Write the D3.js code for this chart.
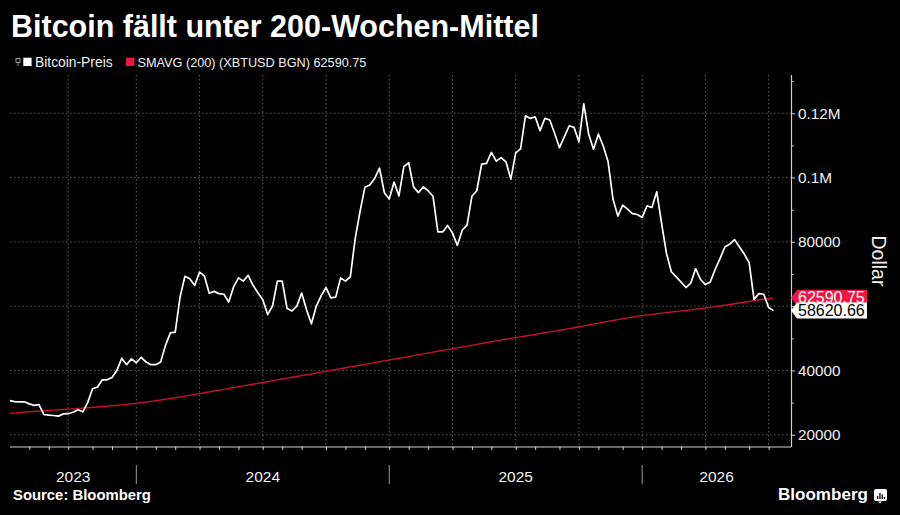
<!DOCTYPE html>
<html><head><meta charset="utf-8">
<script src="https://cdn.jsdelivr.net/npm/d3@7"></script>
<style>body{margin:0;background:#000}svg{display:block}</style>
</head><body>
<svg id="c" width="900" height="515"></svg>
<script>
// ---------------- data ----------------
const title = "Bitcoin fällt unter 200-Wochen-Mittel";
const source = "Source: Bloomberg";
const seriesNames = ["Bitcoin-Preis", "SMAVG (200) (XBTUSD BGN) 62590.75"];
const firstWeek = "2023-07-09";   // weekly observations
const price = [
  30600,30300,30200,30250,29600,29150,29350,26300,26100,26000,
  25800,26500,26550,27000,27800,27150,30000,34300,34800,37100,
  37100,37800,40000,43800,41800,43600,42400,44100,42600,41800,
  41800,42600,47800,51700,51900,62900,69300,68500,66400,70600,
  69400,64000,64600,63900,63700,61300,66000,68800,67800,69600,
  66500,64200,62000,57400,60000,67800,67800,59250,58500,60000,
  64100,58900,54500,60000,63200,65800,62600,62800,68800,67800,
  69100,81000,89500,97000,97700,99700,102900,95300,93300,98600,
  94300,103400,104600,97100,95300,97100,95900,94200,83100,83100,
  85100,82800,78900,83600,85200,94200,95900,104200,104400,107800,
  105100,106200,104900,99500,107700,108900,119200,118400,118900,114600,
  118400,117900,113800,109300,112700,116100,115600,111100,122900,113500,
  108800,113500,109800,104900,93300,88000,91400,90200,88800,88500,
  87600,91200,90700,95600,85700,76400,70700,69100,67500,65800,
  67200,71700,68300,66700,67500,71400,74800,78400,79300,80700,
  78400,76200,73500,62100,63900,63700,59600,58620.66
];
const sma = [
  26700,26810,26920,27030,27140,27250,27360,27460,27560,27660,
  27760,27860,27960,28060,28170,28280,28390,28510,28640,28770,
  28900,29030,29170,29310,29460,29620,29790,29980,30180,30390,
  30600,30810,31030,31260,31500,31750,32010,32270,32530,32800,
  33070,33330,33600,33870,34130,34400,34670,34930,35200,35470,
  35730,36000,36270,36530,36800,37070,37330,37600,37870,38130,
  38400,38670,38940,39210,39480,39750,40020,40290,40560,40830,
  41100,41370,41640,41910,42180,42450,42720,42990,43260,43530,
  43800,44070,44340,44610,44880,45150,45420,45690,45960,46230,
  46500,46770,47040,47310,47580,47850,48120,48390,48660,48930,
  49200,49450,49700,49950,50200,50450,50710,50970,51230,51490,
  51750,52000,52250,52500,52750,53000,53290,53580,53860,54140,
  54420,54710,55000,55270,55540,55810,56080,56350,56620,56900,
  57090,57280,57460,57640,57820,58000,58180,58350,58520,58690,
  58860,59030,59200,59380,59610,59840,60070,60300,60530,60760,
  61000,61230,61460,61690,61920,62140,62370,62590.75
];
const yTickValues = [20000,40000,60000,80000,100000,120000];
// the 60000 label sits behind the value tags in the reference, so it is left blank
const yTickLabels = ["20000","40000","","80000","0.1M","0.12M"];
const yMinorValues = [30000,50000,70000,90000,110000,130000];
const yearLabels = ["2023","2024","2025","2026"];

// ---------------- chart ----------------
const svg = d3.select("#c");
const W = 900, H = 515;
svg.append("rect").attr("width", W).attr("height", H).attr("fill", "#000");
const FONT = "'Liberation Sans', Arial, sans-serif";

function fit(sel, w) {
  const l = sel.node().getComputedTextLength();
  const fs = parseFloat(sel.attr("font-size"));
  sel.attr("font-size", fs * w / l);
  return sel;
}

const start = d3.timeParse("%Y-%m-%d")(firstWeek);
const dates = price.map((_, i) => d3.timeWeek.offset(start, i));
const L = 10, R = 791, T = 75, B = 446.5;
const xEnd = new Date(+start + 160.6 * 7 * 864e5);
const x = d3.scaleTime().domain([start, xEnd]).range([L - 0.15, R]);
const y = d3.scaleLinear().domain([16350, 131900]).range([B, T]);

// month / quarter / year positions (first weekly observation of each period)
const monthStarts = dates.filter((d, i) => i > 0 && d.getMonth() !== dates[i - 1].getMonth());
const quarterStarts = monthStarts.filter(d => d.getMonth() % 3 === 0);
const yearStarts = monthStarts.filter(d => d.getMonth() === 0);

const gridColor = "#5e5e5e";
// horizontal grid
svg.append("g").selectAll("line").data(yTickValues).join("line")
  .attr("x1", L).attr("x2", R).attr("y1", d => y(d)).attr("y2", d => y(d))
  .attr("stroke", gridColor).attr("stroke-width", 1).attr("stroke-dasharray", "1.5,2.5");
// vertical grid
svg.append("g").selectAll("line").data(quarterStarts).join("line")
  .attr("x1", d => x(d)).attr("x2", d => x(d)).attr("y1", T).attr("y2", B)
  .attr("stroke", gridColor).attr("stroke-width", 1).attr("stroke-dasharray", "1.5,2.5");

// x axis
const xAxis = svg.append("g").attr("transform", `translate(0,${B})`)
  .call(d3.axisBottom(x).tickValues(monthStarts).tickFormat("").tickSize(3.5).tickSizeOuter(0));
xAxis.select(".domain").attr("stroke", "#cfcfcf").attr("stroke-width", 1.2)
  .attr("d", `M${L},0.5H${R}`);
xAxis.selectAll(".tick line").attr("stroke", "#cfcfcf");

// year separators and labels
const bounds = [L, ...yearStarts.map(d => x(d)), R];
svg.append("g").selectAll("line").data(yearStarts).join("line")
  .attr("x1", d => x(d)).attr("x2", d => x(d)).attr("y1", 465).attr("y2", 484)
  .attr("stroke", "#9a9a9a").attr("stroke-width", 1);
svg.append("g").selectAll("text").data(yearLabels).join("text")
  .attr("x", (d, i) => (bounds[i] + bounds[i + 1]) / 2).attr("y", 482)
  .attr("text-anchor", "middle").attr("fill", "#f0f0f0")
  .attr("font-family", FONT).attr("font-size", 15.5).text(d => d);

// y axis
const yAxis = svg.append("g").attr("transform", `translate(${R},0)`)
  .call(d3.axisRight(y).tickValues(yTickValues).tickFormat((d, i) => yTickLabels[i]).tickSize(4).tickPadding(3).tickSizeOuter(0));
yAxis.select(".domain").attr("stroke", "#cfcfcf").attr("stroke-width", 1.2)
  .attr("d", `M0.5,${T}V${B + 0.5}`);
yAxis.selectAll(".tick line").attr("stroke", "#cfcfcf");
yAxis.selectAll(".tick text").attr("fill", "#f0f0f0").attr("font-family", FONT).attr("font-size", 15.3);
yAxis.selectAll(".tick text").filter(function () { return this.textContent === ""; }).remove();
const yMinor = svg.append("g").attr("transform", `translate(${R},0)`)
  .call(d3.axisRight(y).tickValues(yMinorValues).tickFormat("").tickSize(3).tickSizeOuter(0));
yMinor.select(".domain").remove();
yMinor.selectAll(".tick line").attr("stroke", "#bdbdbd");

svg.append("text").attr("transform", "translate(872,261) rotate(90)")
  .attr("text-anchor", "middle").attr("fill", "#f0f0f0")
  .attr("font-family", FONT).attr("font-size", 19.5).text("Dollar");

// lines
const line = d3.line().x((d, i) => x(dates[i])).y(d => y(d));
svg.append("path").datum(sma).attr("d", line).attr("fill", "none")
  .attr("stroke", "#c8102e").attr("stroke-width", 1.4);
svg.append("path").datum(price).attr("d", line).attr("fill", "none")
  .attr("stroke", "#ffffff").attr("stroke-width", 1.7).attr("stroke-linejoin", "round");

// value tags
function tag(v, fill, textFill, label, dy) {
  const cy = y(v), h = 16;
  const g = svg.append("g");
  g.append("path").attr("d", `M${R},${cy}L${R + 6},${cy - h / 2}H867V${cy + h / 2}H${R + 6}Z`)
    .attr("fill", fill);
  g.append("text").attr("x", 798).attr("y", cy + dy).attr("fill", textFill)
    .attr("font-family", FONT).attr("font-size", 16).text(label);
}
tag(sma[sma.length - 1], "#f0163f", "#ffffff", "62590.75", 5.0);
tag(price[price.length - 1], "#ffffff", "#000000", "58620.66", 5.6);

// title
fit(svg.append("text").attr("x", 11).attr("y", 37).attr("fill", "#ffffff")
  .attr("font-family", FONT).attr("font-weight", "bold").attr("font-size", 28).text(title), 528);

// legend
const lg = svg.append("g");
lg.append("rect").attr("x", 16).attr("y", 58.5).attr("width", 4).attr("height", 4)
  .attr("fill", "none").attr("stroke", "#bbb").attr("stroke-width", 0.8);
lg.append("line").attr("x1", 18).attr("x2", 18).attr("y1", 62.5).attr("y2", 66).attr("stroke", "#bbb").attr("stroke-width", 0.8);
lg.append("rect").attr("x", 23.3).attr("y", 57.7).attr("width", 8.3).attr("height", 8.3).attr("fill", "#ffffff");
fit(lg.append("text").attr("x", 35).attr("y", 66.5).attr("fill", "#f0f0f0")
  .attr("font-family", FONT).attr("font-size", 13.5).text(seriesNames[0]), 77.7);
lg.append("rect").attr("x", 126).attr("y", 57.7).attr("width", 8.3).attr("height", 8.3).attr("fill", "#f0163f");
fit(lg.append("text").attr("x", 137.5).attr("y", 66.5).attr("fill", "#f0f0f0")
  .attr("font-family", FONT).attr("font-size", 13.5).text(seriesNames[1]), 229);

// footer
fit(svg.append("text").attr("x", 13).attr("y", 500).attr("fill", "#ffffff")
  .attr("font-family", FONT).attr("font-weight", "bold").attr("font-size", 13.5).text(source), 138);
fit(svg.append("text").attr("x", 778).attr("y", 500).attr("fill", "#ffffff")
  .attr("font-family", FONT).attr("font-weight", "bold").attr("font-size", 17).text("Bloomberg"), 90);
const logo = svg.append("g").attr("transform", "translate(874,489)");
logo.append("rect").attr("width", 13).attr("height", 12).attr("rx", 2).attr("fill", "#ffffff");
logo.append("path").attr("d", "M4,12.5L6,14.5L8,12.5Z").attr("fill", "#ffffff");
[[3,7,1.3,3],[5.3,4,1.3,6],[7.6,5.5,1.3,4.5],[9.9,8,1.3,2]].forEach(b =>
  logo.append("rect").attr("x", b[0]).attr("y", b[1]).attr("width", b[2]).attr("height", b[3]).attr("fill", "#000"));
</script>
</body></html>
